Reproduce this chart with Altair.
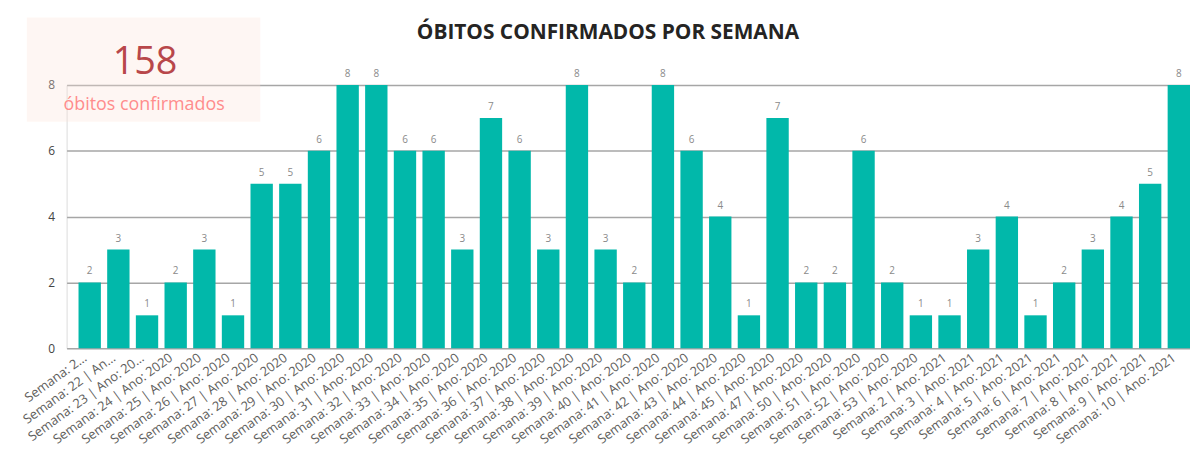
import altair as alt
import pandas as pd

week_labels = [
    "Semana: 2…", "Semana: 22 | An…", "Semana: 23 | Ano: 20…",
    "Semana: 24 | Ano: 2020", "Semana: 25 | Ano: 2020", "Semana: 26 | Ano: 2020",
    "Semana: 27 | Ano: 2020", "Semana: 28 | Ano: 2020", "Semana: 29 | Ano: 2020",
    "Semana: 30 | Ano: 2020", "Semana: 31 | Ano: 2020", "Semana: 32 | Ano: 2020",
    "Semana: 33 | Ano: 2020", "Semana: 34 | Ano: 2020", "Semana: 35 | Ano: 2020",
    "Semana: 36 | Ano: 2020", "Semana: 37 | Ano: 2020", "Semana: 38 | Ano: 2020",
    "Semana: 39 | Ano: 2020", "Semana: 40 | Ano: 2020", "Semana: 41 | Ano: 2020",
    "Semana: 42 | Ano: 2020", "Semana: 43 | Ano: 2020", "Semana: 44 | Ano: 2020",
    "Semana: 45 | Ano: 2020", "Semana: 47 | Ano: 2020", "Semana: 50 | Ano: 2020",
    "Semana: 51 | Ano: 2020", "Semana: 52 | Ano: 2020", "Semana: 53 | Ano: 2020",
    "Semana: 2 | Ano: 2021", "Semana: 3 | Ano: 2021", "Semana: 4 | Ano: 2021",
    "Semana: 5 | Ano: 2021", "Semana: 6 | Ano: 2021", "Semana: 7 | Ano: 2021",
    "Semana: 8 | Ano: 2021", "Semana: 9 | Ano: 2021", "Semana: 10 | Ano: 2021",
]
deaths = [2, 3, 1, 2, 3, 1, 5, 5, 6, 8, 8, 6, 6, 3, 7, 6, 3, 8, 3, 2,
          8, 6, 4, 1, 7, 2, 2, 6, 2, 1, 1, 3, 4, 1, 2, 3, 4, 5, 8]
y_ticks = [0, 2, 4, 6, 8]
kpi_total = [158]
kpi_caption = ["óbitos confirmados"]
chart_title = ["ÓBITOS CONFIRMADOS POR SEMANA"]

df = pd.DataFrame({"semana": week_labels, "obitos": deaths})
kpi = pd.DataFrame({"total": kpi_total, "legenda": kpi_caption})
ttl = pd.DataFrame({"titulo": chart_title})

FONT = "Open Sans"

x = alt.X(
    "semana:N", sort=week_labels, title=None,
    scale=alt.Scale(paddingInner=0.22, paddingOuter=0.208, align=1),
    axis=alt.Axis(labelAngle=-36, labelFontSize=13, labelColor="#605E5C",
                  labelFont=FONT, domain=False, ticks=False, labelPadding=3,
                  labelOffset=-8, labelLimit=400, labelOverlap=False),
)
y = alt.Y(
    "obitos:Q", title=None,
    scale=alt.Scale(domain=[0, 8], nice=False),
    axis=alt.Axis(values=y_ticks, domain=False, ticks=False, gridColor="#A6A6A6",
                  gridWidth=1.5, labelPadding=12, labelColor="#444444",
                  labelFontSize=12, labelFont=FONT),
)

box = alt.Chart(kpi).mark_rect(color="#FCE2D8", opacity=0.3).encode(
    x=alt.value(-40), x2=alt.value(195), y=alt.value(-68), y2=alt.value(37)
)

bars = alt.Chart(df).mark_bar(color="#01B8AA").encode(x=x, y=y)
labels = alt.Chart(df).mark_text(
    baseline="bottom", dy=-6, fontSize=10, color="#8A8A8A", font=FONT
).encode(x=x, y=y, text="obitos:Q")

kpi_num = alt.Chart(kpi).mark_text(
    fontSize=38, color="#B8474A", font=FONT, align="center", baseline="alphabetic"
).encode(x=alt.value(79), y=alt.value(-11), text="total:Q")
kpi_cap = alt.Chart(kpi).mark_text(
    fontSize=18, color="#FF8C8C", font=FONT, align="center", baseline="alphabetic"
).encode(x=alt.value(78), y=alt.value(25), text="legenda:N")

title = alt.Chart(ttl).mark_text(
    fontSize=21, fontWeight="bold", color="#252423", font=FONT,
    align="center", baseline="alphabetic"
).encode(x=alt.value(545), y=alt.value(-46), text="titulo:N")

chart = alt.layer(box, bars, labels, kpi_num, kpi_cap, title).properties(
    width=1131, height=265,
    autosize=alt.AutoSizeParams(type="none"),
    padding={"left": 59, "top": 76, "right": 0, "bottom": 109},
).configure_view(stroke=None).configure(background="white")

chart.save("out.html", embed_options={"renderer": "svg", "actions": False})
